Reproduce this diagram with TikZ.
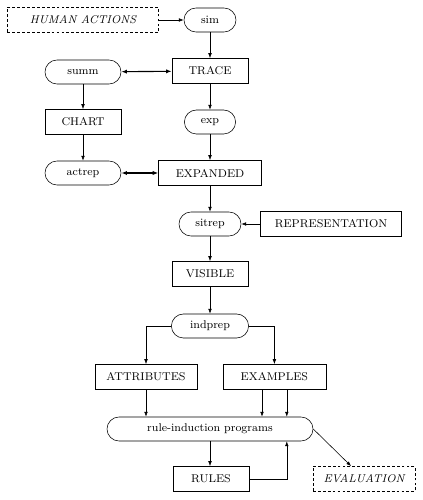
\documentclass[tikz,border=0pt]{standalone}
\usepackage{tikz}
\usetikzlibrary{positioning, calc, arrows.meta}
\tikzset{
    box/.style={
        rectangle,
        minimum height=0.63cm,
        minimum width=1.9cm,
        align=center,
        draw=black,
        font=\footnotesize
    },
    proc/.style={box, rounded corners=0.3cm, minimum height=0.6cm},
    ext/.style={box, dash pattern=on 2pt off 1.5pt, font=\footnotesize\itshape},
    arr/.style={-{Latex[length=3.5pt,width=2.6pt]}, draw=black},
    both/.style={{Latex[length=4pt,width=3pt]}-{Latex[length=4pt,width=3pt]}, draw=black, line width=0.8pt}
}

\begin{document}
\begin{tikzpicture}
\useasboundingbox (0,0) rectangle (10.55,12.5);

% Input side
\node[ext, minimum width=3.78cm] (human) at (2.075, 12.0) {HUMAN ACTIONS};
\node[proc, minimum width=1.3cm] (sim) at (5.25, 12.0) {sim};
\node[box] (trace) at (5.25, 10.725) {TRACE};
\node[proc] (summ) at (2.075, 10.7) {summ};
\node[box] (chart) at (2.075, 9.45) {CHART};
\node[proc, minimum width=1.28cm] (exp) at (5.25, 9.45) {exp};
\node[proc] (actrep) at (2.075, 8.175) {actrep};
\node[box, minimum width=2.57cm] (expanded) at (5.25, 8.175) {EXPANDED};

% Representation
\node[proc, minimum width=1.55cm] (sitrep) at (5.25, 6.9) {sitrep};
\node[box, minimum width=3.52cm] (repr) at (8.275, 6.9) {REPRESENTATION};
\node[box] (visible) at (5.25, 5.65) {VISIBLE};
\node[proc, minimum width=1.93cm] (indprep) at (5.25, 4.35) {indprep};

% Induction
\node[box, minimum width=2.55cm] (attr) at (3.65, 3.075) {ATTRIBUTES};
\node[box, minimum width=2.57cm] (examples) at (6.86, 3.075) {EXAMPLES};
\node[proc, minimum width=5.15cm] (ri) at (5.25, 1.775) {rule-induction programs};
\node[box] (rules) at (5.275, 0.525) {RULES};
\node[ext, minimum width=2.55cm] (eval) at (9.1, 0.525) {EVALUATION};

% Connectors
\draw[arr] (human) -- (sim);
\draw[arr] (sim) -- (trace);
\draw[both] (summ) -- (trace);
\draw[arr] (summ) -- (chart);
\draw[arr] (chart) -- (actrep);
\draw[arr] (trace) -- (exp);
\draw[arr] (exp) -- (expanded);
\draw[both] (actrep) -- (expanded);
\draw[arr] (expanded) -- (sitrep);
\draw[arr] (repr) -- (sitrep);
\draw[arr] (sitrep) -- (visible);
\draw[arr] (visible) -- (indprep);
\draw[arr] (indprep.west) -| (attr.north);
\draw[arr] (indprep.east) -| (examples.north);
\draw[arr] (attr.south) -- (attr.south |- ri.north);
\draw[arr] ([xshift=-0.31cm]examples.south) -- ([xshift=-0.31cm]examples.south |- ri.north);
\draw[arr] ([xshift=0.31cm]examples.south) -- ([xshift=0.31cm]examples.south |- ri.north);
\draw[arr] (ri) -- (ri.south |- rules.north);
\draw[arr] (rules.east) -| ([xshift=0.31cm]examples.south |- ri.south);
\draw[arr] (ri.east) -- (eval.135);

\end{tikzpicture}
\end{document}
